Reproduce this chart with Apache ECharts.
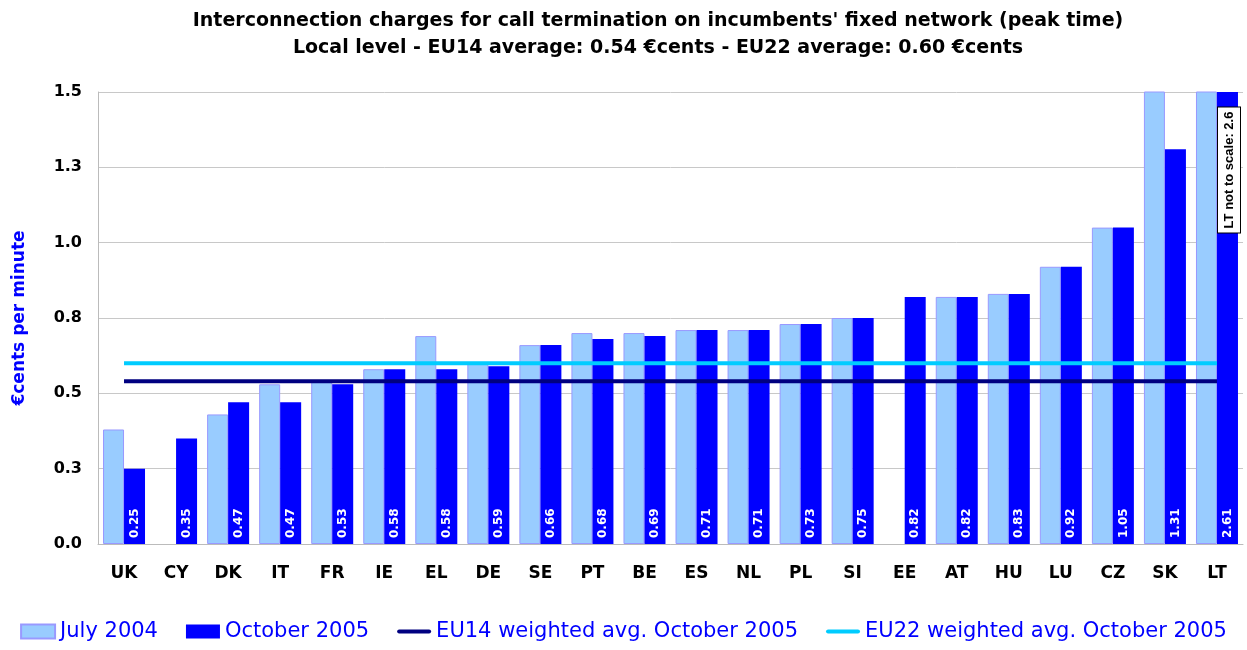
<!DOCTYPE html>
<html>
<head>
<meta charset="utf-8">
<script src="https://cdn.jsdelivr.net/npm/echarts@6/dist/echarts.min.js"></script>
<style>
  html, body { margin: 0; padding: 0; background: #fff; }
  #chart { width: 1247px; height: 650px; }
</style>
</head>
<body>
<div id="chart"></div>
<script>
// countries
const countries = ['UK', 'CY', 'DK', 'IT', 'FR', 'IE', 'EL', 'DE', 'SE', 'PT', 'BE',
  'ES', 'NL', 'PL', 'SI', 'EE', 'AT', 'HU', 'LU', 'CZ', 'SK', 'LT']
// July 2004 (null = no data)
const july2004 = [0.38, null, 0.43, 0.53, 0.54, 0.58, 0.69, 0.60, 0.66, 0.70, 0.70,
  0.71, 0.71, 0.73, 0.75, null, 0.82, 0.83, 0.92, 1.05, 1.60, 2.60]
// October 2005 (labelled)
const oct2005 = [0.25, 0.35, 0.47, 0.47, 0.53, 0.58, 0.58, 0.59, 0.66, 0.68, 0.69,
  0.71, 0.71, 0.73, 0.75, 0.82, 0.82, 0.83, 0.92, 1.05, 1.31, 2.61]
// weighted averages
const eu14Avg = 0.54
const eu22Avg = 0.60

const font = 'DejaVu Sans, sans-serif'
// thick line used as legend icon for the average lines
const lineIcon = 'path://M2,0 L38,0 A2.5,2.5 0 0 1 38,5 L2,5 A2.5,2.5 0 0 1 2,0 Z'

const chart = echarts.init(document.getElementById('chart'))
const option = {
  animation: false,
  title: {
    text: "Interconnection charges for call termination on incumbents' fixed network (peak time)\nLocal level - EU14 average: 0.54 \u20accents - EU22 average: 0.60 \u20accents",
    left: 653,
    top: 3,
    textAlign: 'center',
    textStyle: {
      fontFamily: font,
      fontSize: 19,
      fontWeight: 'bold',
      color: '#000',
      lineHeight: 27
    }
  },
  legend: {
    bottom: 3,
    left: 'center',
    padding: [5, 5, 5, 22],
    itemGap: 28,
    itemWidth: 34,
    itemHeight: 14,
    textStyle: {
      fontFamily: font,
      fontSize: 21,
      color: '#0000FF'
    },
    data: [
      { name: 'July 2004', icon: 'rect' },
      { name: 'October 2005', icon: 'rect' },
      { name: 'EU14 weighted avg. October 2005', icon: lineIcon },
      { name: 'EU22 weighted avg. October 2005', icon: lineIcon }
    ]
  },
  grid: { left: 98, right: 4, top: 92, bottom: 106 },
  xAxis: {
    type: 'category',
    data: countries,
    axisTick: { show: false },
    axisLine: { lineStyle: { color: '#BBBBBB', width: 1 } },
    axisLabel: {
      margin: 21,
      fontFamily: font,
      fontSize: 17,
      fontWeight: 'bold',
      color: '#000'
    }
  },
  yAxis: {
    type: 'value',
    min: 0,
    max: 1.5,
    interval: 0.25,
    name: '\u20accents per minute',
    nameLocation: 'middle',
    nameGap: 70,
    nameTextStyle: {
      fontFamily: font,
      fontSize: 17,
      fontWeight: 'bold',
      color: '#0000FF'
    },
    axisLine: { show: true, lineStyle: { color: '#BBBBBB' } },
    axisTick: { show: false },
    splitLine: { lineStyle: { color: '#C8C8C8' } },
    axisLabel: {
      margin: 16,
      fontFamily: font,
      fontSize: 16,
      fontWeight: 'bold',
      color: '#000',
      formatter: v => v.toFixed(1)
    }
  },
  series: [
    {
      name: 'July 2004',
      type: 'bar',
      data: july2004,
      barWidth: 21,
      barGap: '0%',
      itemStyle: { color: '#99CCFF', borderColor: '#9999FF', borderWidth: 1 }
    },
    {
      name: 'October 2005',
      type: 'bar',
      data: oct2005,
      barWidth: 21,
      itemStyle: { color: '#0000FF' },
      label: {
        show: true,
        position: 'insideBottom',
        rotate: 90,
        align: 'left',
        verticalAlign: 'middle',
        distance: 6,
        fontFamily: font,
        fontSize: 12,
        fontWeight: 'bold',
        color: '#fff',
        formatter: p => p.value.toFixed(2)
      }
    },
    {
      name: 'EU14 weighted avg. October 2005',
      type: 'line',
      data: countries.map(() => eu14Avg),
      symbol: 'none',
      z: 5,
      lineStyle: { color: '#000080', width: 4 },
      itemStyle: { color: '#000080' }
    },
    {
      name: 'EU22 weighted avg. October 2005',
      type: 'line',
      data: countries.map(() => eu22Avg),
      symbol: 'none',
      z: 5,
      lineStyle: { color: '#00CCFF', width: 4 },
      itemStyle: { color: '#00CCFF' }
    }
  ],
  graphic: [
    {
      type: 'text',
      x: 1229,
      y: 170,
      rotation: Math.PI / 2,
      z: 100,
      style: {
        text: 'LT not to scale: 2.6',
        fontFamily: 'Liberation Sans, Arial, sans-serif',
        fontSize: 13,
        fontWeight: 'bold',
        fill: '#000',
        align: 'center',
        verticalAlign: 'middle',
        backgroundColor: '#fff',
        borderColor: '#000',
        borderWidth: 1,
        padding: [5, 4, 4, 4]
      }
    }
  ]
}
chart.setOption(option)
</script>
</body>
</html>
